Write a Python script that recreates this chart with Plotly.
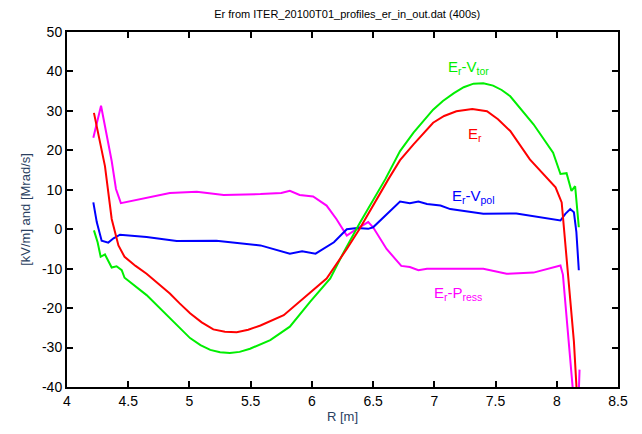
import plotly.graph_objects as go

# Er
er_x = [4.22, 4.31, 4.365, 4.42, 4.47, 4.56, 4.65, 4.84, 4.92, 5.005, 5.1, 5.195, 5.29, 5.386, 5.48,
        5.58, 5.77, 5.96, 6.12, 6.285, 6.39, 6.625, 6.72, 6.83, 6.99, 7.08, 7.18, 7.31, 7.43, 7.52,
        7.62, 7.78, 7.99, 8.04, 8.08, 8.14, 8.17]
er_y = [29.5, 16.0, 2.6, -4.1, -7.0, -9.3, -11.3, -16.3, -18.8, -21.3, -23.6, -25.4, -26.0, -26.1, -25.5,
        -24.4, -21.8, -16.7, -12.5, -5.0, 0.1, 12.7, 17.5, 21.5, 27.0, 28.7, 29.9, 30.5, 29.9, 27.9,
        24.9, 17.7, 10.6, 6.8, -7.5, -28.5, -45.0]

# Er - Vtor
tor_x = [4.22, 4.25, 4.275, 4.31, 4.365, 4.405, 4.447, 4.47, 4.65, 4.84, 5.005, 5.09, 5.17, 5.25, 5.33,
         5.41, 5.495, 5.66, 5.82, 5.985, 6.15, 6.26, 6.39, 6.60, 6.72, 6.83, 6.99, 7.07, 7.16, 7.24,
         7.32, 7.40, 7.48, 7.55, 7.62, 7.81, 7.97, 8.03, 8.08, 8.12, 8.15, 8.18]
tor_y = [-0.3, -3.3, -7.0, -6.4, -9.7, -9.4, -10.4, -12.3, -16.7, -22.4, -27.6, -29.4, -30.6, -31.2, -31.4,
         -31.1, -30.3, -28.1, -24.7, -18.4, -12.5, -5.8, 1.5, 12.7, 19.8, 24.5, 30.3, 32.5, 34.5, 36.0,
         36.9, 37.0, 36.4, 35.3, 33.7, 26.6, 19.4, 14.0, 14.2, 9.7, 10.9, 0.5]

# Er - Vpol
pol_x = [4.215, 4.243, 4.283, 4.337, 4.38, 4.433, 4.65, 4.896, 5.22, 5.58, 5.82, 5.92, 6.03, 6.18,
         6.285, 6.37, 6.46, 6.5, 6.72, 6.80, 6.87, 6.94, 7.05, 7.13, 7.40, 7.67, 8.03, 8.07,
         8.11, 8.14, 8.16, 8.18]
pol_y = [6.8, 1.8, -2.9, -3.4, -2.3, -1.4, -2.0, -3.0, -2.9, -4.1, -6.2, -5.6, -6.2, -3.3,
         0.0, 0.3, 0.1, 0.5, 7.0, 6.6, 7.0, 6.4, 6.0, 5.1, 3.9, 4.0, 2.2, 3.9,
         5.1, 4.3, -0.7, -10.4]

# Er - Press
prs_x = [4.215, 4.278, 4.365, 4.40, 4.44, 4.705, 4.84, 5.06, 5.28, 5.58, 5.75, 5.82, 5.90, 6.01,
         6.12, 6.20, 6.285, 6.367, 6.46, 6.50, 6.61, 6.73, 6.80, 6.87, 6.94, 6.99, 7.40, 7.59,
         7.81, 8.03, 8.05, 8.13, 8.16, 8.186]
prs_y = [23.2, 31.3, 17.3, 10.2, 6.6, 8.3, 9.2, 9.5, 8.7, 8.9, 9.2, 9.75, 8.7, 8.3,
         6.0, 2.6, -1.6, 0.1, 1.8, 0.5, -5.0, -9.3, -9.6, -10.4, -10.0, -10.0, -10.0, -11.3,
         -11.0, -9.2, -11.5, -40.2, -60.0, -35.6]

x_ticks = [4, 4.5, 5, 5.5, 6, 6.5, 7, 7.5, 8, 8.5]
x_labels = ["4", "4.5", "5", "5.5", "6", "6.5", "7", "7.5", "8", "8.5"]
y_ticks = [-40, -30, -20, -10, 0, 10, 20, 30, 40, 50]
y_labels = ["-40", "-30", "-20", "-10", "0", "10", "20", "30", "40", "50"]

title = "Er from ITER_20100T01_profiles_er_in_out.dat (400s)"

series = [
    (prs_x, prs_y, "#ff00ff", "E<sub>r</sub>-P<sub>ress</sub>", 7.19, -16.3),
    (pol_x, pol_y, "#0000ff", "E<sub>r</sub>-V<sub>pol</sub>", 7.32, 8.2),
    (tor_x, tor_y, "#00ee00", "E<sub>r</sub>-V<sub>tor</sub>", 7.28, 40.9),
    (er_x, er_y, "#ff0000", "E<sub>r</sub>", 7.33, 24.0),
]

fig = go.Figure()
for xs, ys, col, lab, ax_, ay_ in series:
    fig.add_trace(go.Scatter(x=xs, y=ys, mode="lines", line=dict(color=col, width=2),
                             showlegend=False, hoverinfo="skip"))
    fig.add_annotation(x=ax_, y=ay_, text=lab, showarrow=False,
                       font=dict(color=col, size=15, family="Liberation Sans"))

axis_common = dict(showgrid=False, zeroline=False, showline=True, linecolor="black",
                   linewidth=2, mirror="ticks", ticks="inside", ticklen=6, tickwidth=1.5,
                   tickcolor="black", tickfont=dict(size=14, family="Liberation Sans", color="black"))

# page body adds an 8px offset, so the figure is sized/margined to compensate
fig.update_layout(
    width=634, height=426,
    margin=dict(l=59, r=24, t=24, b=45),
    paper_bgcolor="white", plot_bgcolor="white",
    title=dict(text=title, x=0.535, xanchor="center", y=0.985, yanchor="middle",
               font=dict(size=11, family="Liberation Sans", color="black")),
    xaxis=dict(range=[4, 8.5], tickvals=x_ticks, ticktext=x_labels,
               title=dict(text="R [m]", font=dict(size=13, family="Liberation Sans"), standoff=4),
               **axis_common),
    yaxis=dict(range=[-40, 50], tickvals=y_ticks, ticktext=y_labels,
               title=dict(text="[kV/m] and [Mrad/s]", font=dict(size=13, family="Liberation Sans"),
                          standoff=8),
               **axis_common),
)

fig.write_html("out.html")
